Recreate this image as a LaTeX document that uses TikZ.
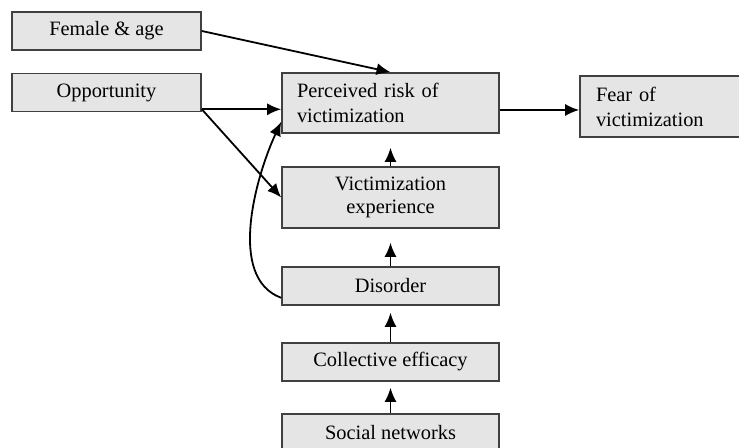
\documentclass[tikz,border=0pt]{standalone}
\usepackage{fontspec}
\setmainfont{Liberation Serif}
\usetikzlibrary{shapes,arrows,arrows.meta,positioning}

\begin{document}
\begin{tikzpicture}[x=0.5pt, y=0.5pt, >={Latex[length=7pt,width=6pt]},
    box/.style={rectangle, draw=black!75, line width=0.8pt, fill=black!10, align=center, font=\fontsize{10.2}{11.5}\selectfont},
    lbox/.style={box, minimum width=94.5pt, minimum height=19pt},
    mbox/.style={box, minimum width=108.5pt, minimum height=19pt},
    ar/.style={line width=0.9pt,->}]
    \useasboundingbox (0,0) rectangle (739,448);
    \node [lbox] (fem) at (106.5,417) {Female \& age};
    \node [lbox] (opp) at (106.5,355.5) {Opportunity};
    \node [box, align=left, text width=93.5pt, inner xsep=7.5pt, minimum height=30pt,
           font=\fontsize{10.2}{12.5}\selectfont] (risk) at (390.5,345) {Perceived risk of\\victimization};
    \node [box, align=left, text width=69pt, inner xsep=8pt, minimum height=30.5pt,
           font=\fontsize{10.2}{12.5}\selectfont] (fear) at (665,341.5) {Fear of\\victimization};
    \node [mbox, minimum height=30.5pt] (vic) at (390.5,250.5) {Victimization\\experience};
    \node [mbox] (dis) at (390.5,162) {Disorder};
    \node [mbox] (coll) at (390.5,86) {Collective efficacy};
    \node [mbox] (soc) at (390.5,15) {Social networks};
    \coordinate (oa) at ([yshift=1.5pt]opp.south east);
    \coordinate (ra) at ([yshift=-3.5pt]risk.east);
    \draw [ar] (fem.east) -- (risk.north);
    \draw [ar] (oa) -- (oa -| risk.west);
    \draw [ar] (oa) -- (vic.west);
    \draw [ar] ([yshift=4pt]dis.south west) to[out=160, in=245, looseness=0.85] ([yshift=6pt]risk.south west);
    \draw [ar] (ra) -- (ra -| fear.west);
    \draw [ar] (vic.north) -- ([yshift=-7pt]risk.south);
    \draw [ar] (dis.north) -- ([yshift=-7pt]vic.south);
    \draw [ar] (coll.north) -- ([yshift=-3.5pt]dis.south);
    \draw [ar] (soc.north) -- ([yshift=-3pt]coll.south);
\end{tikzpicture}
\end{document}
